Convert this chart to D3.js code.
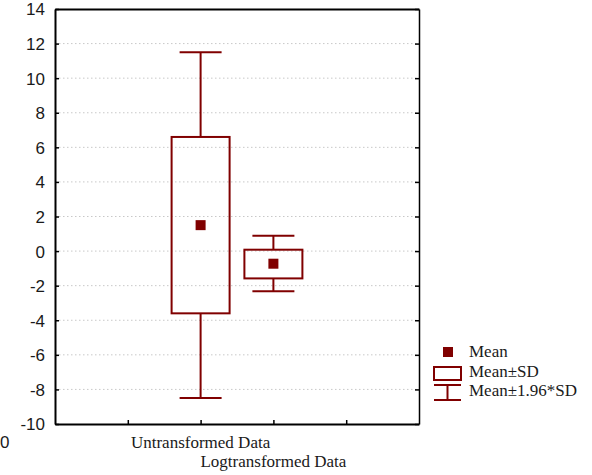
<!DOCTYPE html>
<html><head><meta charset="utf-8">
<script src="https://cdn.jsdelivr.net/npm/d3@7"></script>
<style>body{margin:0;background:#fff}svg{display:block}</style>
</head><body>
<script>
const categories = ["Untransformed Data", "Logtransformed Data"];
const catPositions = [2, 3];
const means = [1.5, -0.73];
const sdLow = [-3.6, -1.58];
const sdHigh = [6.6, 0.08];
const ciLow = [-8.5, -2.32];
const ciHigh = [11.5, 0.88];
const yTicks = [-10, -8, -6, -4, -2, 0, 2, 4, 6, 8, 10, 12, 14];
const xTicks = [1, 2, 3, 4];
const legendLabels = ["Mean", "Mean\u00b1SD", "Mean\u00b11.96*SD"];

const W = 592, H = 475;
const col = "#800000";
const svg = d3.select("body").append("svg").attr("width", W).attr("height", H);
const L = 55, R = 419, T = 9, B = 424;
const y = d3.scaleLinear().domain([-10, 14]).range([B, T]);
const x = d3.scaleLinear().domain([0, 5]).range([L, R]);

// grid
svg.append("g").selectAll("line").data(yTicks.slice(1, -1)).join("line")
  .attr("x1", L).attr("x2", R).attr("y1", d => y(d)).attr("y2", d => y(d))
  .attr("stroke", "#c8c8c8").attr("stroke-width", 1).attr("stroke-dasharray", "1.5,2.5");

// axes
const yAxis = d3.axisLeft(y).tickValues(yTicks).tickSizeInner(-4).tickSizeOuter(0).tickPadding(10)
  .tickFormat(d => String(d));
const gy = svg.append("g").attr("transform", `translate(${L},0)`).call(yAxis);
gy.selectAll("text").attr("font-family", "Liberation Sans, Arial, sans-serif").attr("font-size", 17).attr("fill", "#1a1a1a").attr("dy", "0.35em");
gy.select(".domain").attr("stroke", "#000").attr("stroke-width", 2);
gy.selectAll(".tick line").attr("stroke", "#000").attr("stroke-width", 1.5);

const yAxisR = d3.axisRight(y).tickValues(yTicks).tickSizeInner(-4).tickSizeOuter(0).tickFormat("");
const gyr = svg.append("g").attr("transform", `translate(${R},0)`).call(yAxisR);
gyr.select(".domain").attr("stroke", "#000").attr("stroke-width", 1.5);
gyr.selectAll(".tick line").attr("stroke", "#000").attr("stroke-width", 1.5);

const xAxis = d3.axisBottom(x).tickValues(xTicks).tickSizeInner(-4).tickSizeOuter(0).tickFormat("");
const gx = svg.append("g").attr("transform", `translate(0,${B})`).call(xAxis);
gx.select(".domain").attr("stroke", "#000").attr("stroke-width", 2);
gx.selectAll(".tick line").attr("stroke", "#000").attr("stroke-width", 1.5);

const xAxisT = d3.axisTop(x).tickValues([]).tickSizeOuter(0);
const gxt = svg.append("g").attr("transform", `translate(0,${T})`).call(xAxisT);
gxt.select(".domain").attr("stroke", "#000").attr("stroke-width", 2);

// category labels (staggered)
svg.append("g").selectAll("text").data(categories).join("text")
  .attr("x", (d, i) => x(catPositions[i])).attr("y", (d, i) => 448 + i * 19)
  .attr("text-anchor", "middle").attr("font-family", "Liberation Serif, Times New Roman, serif")
  .attr("font-size", 17).attr("fill", "#1a1a1a").text(d => d);

// stray label at left edge
svg.append("text").attr("x", 0).attr("y", 448).attr("text-anchor", "start")
  .attr("font-family", "Liberation Sans, Arial, sans-serif").attr("font-size", 17).attr("fill", "#1a1a1a").text("0");

// boxes
const boxHW = 29, capHW = 21;
const g = svg.append("g");
categories.forEach((c, i) => {
  const cx = x(catPositions[i]);
  g.append("line").attr("x1", cx).attr("x2", cx).attr("y1", y(ciHigh[i])).attr("y2", y(sdHigh[i]))
    .attr("stroke", col).attr("stroke-width", 2);
  g.append("line").attr("x1", cx).attr("x2", cx).attr("y1", y(sdLow[i])).attr("y2", y(ciLow[i]))
    .attr("stroke", col).attr("stroke-width", 2);
  [ciHigh[i], ciLow[i]].forEach(v => {
    g.append("line").attr("x1", cx - capHW).attr("x2", cx + capHW).attr("y1", y(v)).attr("y2", y(v))
      .attr("stroke", col).attr("stroke-width", 2);
  });
  g.append("rect").attr("x", cx - boxHW).attr("y", y(sdHigh[i])).attr("width", boxHW * 2)
    .attr("height", y(sdLow[i]) - y(sdHigh[i])).attr("fill", "none").attr("stroke", col).attr("stroke-width", 2);
  g.append("rect").attr("x", cx - 5).attr("y", y(means[i]) - 5).attr("width", 10).attr("height", 10).attr("fill", col);
});

// legend
const lg = svg.append("g");
lg.append("rect").attr("x", 443).attr("y", 347).attr("width", 10).attr("height", 10).attr("fill", col);
lg.append("rect").attr("x", 434).attr("y", 367).attr("width", 27).attr("height", 13).attr("fill", "none").attr("stroke", col).attr("stroke-width", 2);
lg.append("line").attr("x1", 434).attr("x2", 461).attr("y1", 385).attr("y2", 385).attr("stroke", col).attr("stroke-width", 2);
lg.append("line").attr("x1", 434).attr("x2", 461).attr("y1", 400).attr("y2", 400).attr("stroke", col).attr("stroke-width", 2);
lg.append("line").attr("x1", 447.5).attr("x2", 447.5).attr("y1", 385).attr("y2", 400).attr("stroke", col).attr("stroke-width", 2);
lg.selectAll("text").data(legendLabels).join("text")
  .attr("x", 469).attr("y", (d, i) => 357 + i * 19.5)
  .attr("font-family", "Liberation Serif, Times New Roman, serif").attr("font-size", 17).attr("fill", "#1a1a1a").text(d => d);
</script>
</body></html>
